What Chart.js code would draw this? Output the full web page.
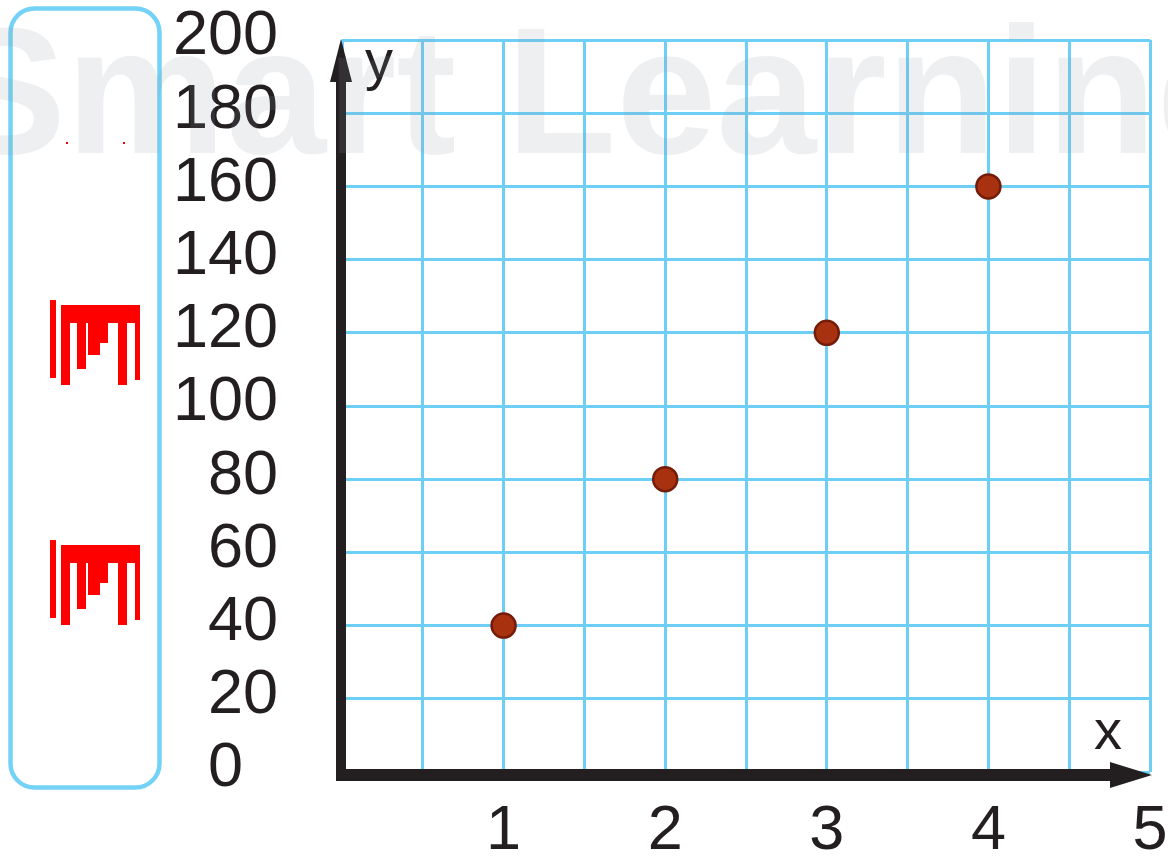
<!DOCTYPE html>
<html>
<head>
<meta charset="utf-8">
<script src="https://cdn.jsdelivr.net/npm/chart.js@4.4.0/dist/chart.umd.min.js"></script>
<style>
  html, body { margin: 0; padding: 0; background: #fff; }
  #grafico { display: block; }
</style>
</head>
<body>
<canvas id="grafico" width="1168" height="859"></canvas>
<script>
// datos del gráfico
const valoresX = [1, 2, 3, 4];
const valoresY = [40, 80, 120, 160];
const ticksX = [1, 2, 3, 4, 5];
const ticksY = [0, 20, 40, 60, 80, 100, 120, 140, 160, 180, 200];

const AZUL = '#6dcff6';
const NEGRO = '#231f20';
const FUENTE = '"Liberation Sans", Arial, sans-serif';

// marcas rojas dentro de la caja de la izquierda
function marcaRoja(ctx, y) {
  ctx.fillStyle = '#ff0000';
  ctx.fillRect(61, y, 79, 18);
  const trazos = [
    [50, 6, -5, 78], [61, 9, 0, 80], [77, 9, 0, 64], [88, 12, 0, 50],
    [100, 8, 0, 38], [118, 9, 0, 80], [135, 5, 0, 75]
  ];
  trazos.forEach(function (t) {
    ctx.fillRect(t[0], y + t[2], t[1], t[3]);
  });
}

const fondo = {
  id: 'fondo',
  beforeDraw(chart) {
    const ctx = chart.ctx;
    ctx.save();
    ctx.fillStyle = '#ffffff';
    ctx.fillRect(0, 0, chart.width, chart.height);
    ctx.strokeStyle = '#74d2f6';
    ctx.lineWidth = 4.5;
    ctx.beginPath();
    ctx.roundRect(10.5, 8.5, 149, 779, 24);
    ctx.stroke();
    marcaRoja(ctx, 305);
    marcaRoja(ctx, 545);
    ctx.fillStyle = '#ff0000';
    ctx.fillRect(66, 142, 2, 2);
    ctx.fillRect(123, 142, 2, 2);
    ctx.restore();
  }
};

// ejes gruesos con flechas
const ejes = {
  id: 'ejes',
  beforeDatasetsDraw(chart) {
    const ctx = chart.ctx;
    const sx = chart.scales.x, sy = chart.scales.y;
    const x0 = sx.getPixelForValue(0) - 1;
    const y0 = sy.getPixelForValue(0) + 3;
    const xFin = sx.getPixelForValue(5) + 2;
    const yFin = sy.getPixelForValue(200) - 1;
    ctx.save();
    ctx.fillStyle = NEGRO;
    // eje y
    ctx.fillRect(x0 - 5, yFin + 40, 10, y0 + 6 - (yFin + 40));
    ctx.beginPath();
    ctx.moveTo(x0, yFin);
    ctx.lineTo(x0 + 11, yFin + 43);
    ctx.lineTo(x0 - 11, yFin + 43);
    ctx.closePath();
    ctx.fill();
    // eje x
    ctx.fillRect(x0 - 5, y0 - 6, xFin - 40 - (x0 - 5), 12);
    ctx.beginPath();
    ctx.moveTo(xFin, y0);
    ctx.lineTo(xFin - 42, y0 - 13);
    ctx.lineTo(xFin - 42, y0 + 13);
    ctx.closePath();
    ctx.fill();
    // nombres de los ejes
    ctx.font = '56px ' + FUENTE;
    ctx.textAlign = 'center';
    ctx.textBaseline = 'alphabetic';
    ctx.fillText('y', x0 + 38, yFin + 40);
    ctx.fillText('x', xFin - 44, y0 - 26);
    ctx.restore();
  },
  afterDraw(chart) {
    // marca de agua
    const ctx = chart.ctx;
    ctx.save();
    ctx.font = 'bold 180px "Liberation Sans", Arial, sans-serif';
    ctx.fillStyle = 'rgba(140, 150, 160, 0.15)';
    ctx.textBaseline = 'alphabetic';
    ctx.fillText('Smart Learning', -54, 153);
    ctx.restore();
  }
};

const ctx = document.getElementById('grafico').getContext('2d');
const grafico = new Chart(ctx, {
  type: 'scatter',
  data: {
    datasets: [{
      data: valoresX.map(function (x, i) { return { x: x, y: valoresY[i] }; }),
      backgroundColor: '#a8310f',
      borderColor: '#741c09',
      borderWidth: 2.5,
      pointRadius: 12,
      pointHoverRadius: 12
    }]
  },
  options: {
    responsive: false,
    animation: false,
    layout: { padding: { left: 0, right: 18, top: 40, bottom: 0 } },
    plugins: {
      legend: { display: false },
      tooltip: { enabled: false }
    },
    scales: {
      x: {
        type: 'linear',
        min: 0,
        max: 5,
        border: { display: false },
        grid: { color: AZUL, lineWidth: 3, drawTicks: false },
        afterFit: function (scale) {
          scale.height = 87;
          scale.paddingLeft = 0;
          scale.paddingRight = 0;
        },
        ticks: {
          stepSize: 0.5,
          autoSkip: false,
          maxRotation: 0,
          padding: 22,
          color: NEGRO,
          font: { family: FUENTE, size: 63 },
          callback: function (v) { return ticksX.includes(v) ? String(v) : ''; }
        }
      },
      y: {
        type: 'linear',
        min: 0,
        max: 200,
        border: { display: false },
        grid: { color: AZUL, lineWidth: 3, drawTicks: false },
        afterFit: function (scale) {
          scale.width = 342;
          scale.paddingTop = 0;
          scale.paddingBottom = 0;
        },
        ticks: {
          stepSize: 20,
          autoSkip: false,
          padding: 64,
          labelOffset: -3,
          color: NEGRO,
          font: { family: FUENTE, size: 63 },
          callback: function (v) {
            if (!ticksY.includes(v)) return '';
            return v === 0 ? '0\u2007' : String(v);
          }
        }
      }
    }
  },
  plugins: [fondo, ejes]
});
</script>
</body>
</html>
